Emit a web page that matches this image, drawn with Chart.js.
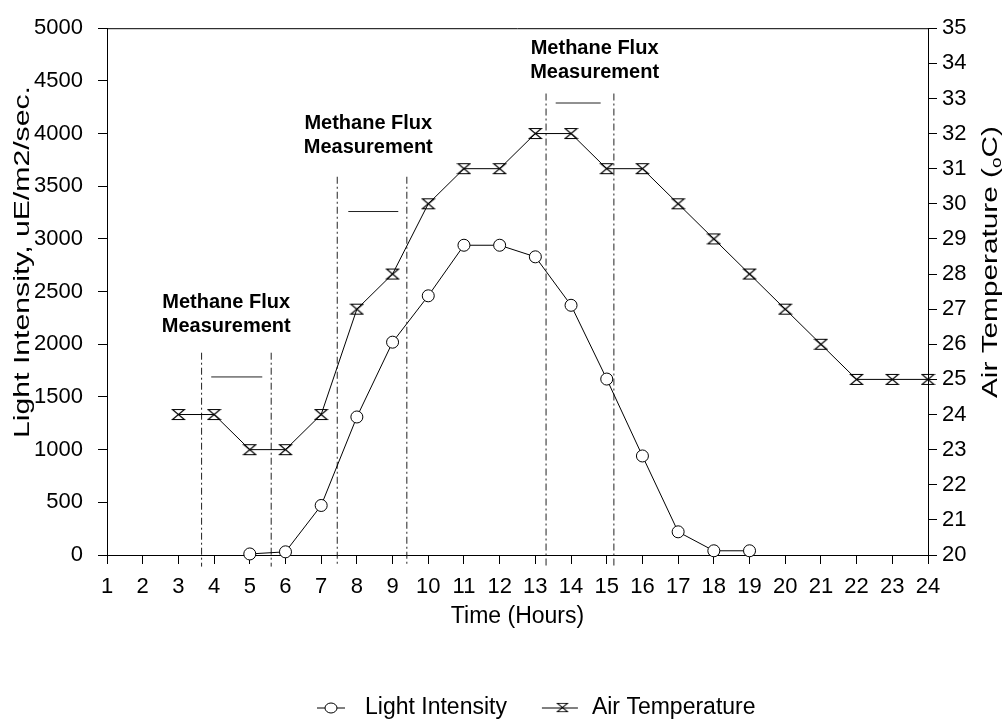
<!DOCTYPE html>
<html>
<head>
<meta charset="utf-8">
<script src="https://cdn.jsdelivr.net/npm/chart.js@4.4.0/dist/chart.umd.min.js"></script>
<style>
html, body { margin: 0; padding: 0; background: #fff; }
canvas { display: block; }
</style>
</head>
<body>
<canvas id="chart" width="1006" height="726"></canvas>
<script>
var lightHours = [5, 6, 7, 8, 9, 10, 11, 12, 13, 14, 15, 16, 17, 18, 19];
var lightValues = [10, 30, 470, 1310, 2020, 2460, 2940, 2940, 2830, 2370, 1670, 940, 220, 40, 40];

var tempHours = [3, 4, 5, 6, 7, 8, 9, 10, 11, 12, 13, 14, 15, 16, 17, 18, 19, 20, 21, 22, 23, 24];
var tempValues = [24, 24, 23, 23, 24, 27, 28, 30, 31, 31, 32, 32, 31, 31, 30, 29, 28, 27, 26, 25, 25, 25];

// methane flux measurement windows (hours), with the light-axis level of each mark
var fluxStart = [3.65, 7.45, 13.3];
var fluxEnd = [5.6, 9.4, 15.2];
var fluxTop = [1920, 3590, 4380];
var fluxBarFrom = [3.92, 7.76, 13.57];
var fluxBarTo = [5.35, 9.16, 14.83];
var fluxBarLevel = [1690, 3260, 4290];
var fluxLabelHour = [4.34, 8.32, 14.66];
var fluxLabelLevel = [2400, 4100, 4810];
var fluxLabel = ['Methane Flux', 'Measurement'];

var FONT = "'Liberation Sans', Arial, sans-serif";

function hourglass() {
	var c = document.createElement('canvas');
	c.width = 15; c.height = 13;
	var g = c.getContext('2d');
	g.strokeStyle = '#000';
	g.lineWidth = 1.2;
	g.beginPath();
	g.moveTo(1.5, 1.5);
	g.lineTo(13.5, 1.5);
	g.lineTo(1.5, 11.5);
	g.lineTo(13.5, 11.5);
	g.closePath();
	g.stroke();
	return c;
}
var hourglassImg = hourglass();

// vertical axis title, stretched along its run like the scan
function vtitle(ctx, parts, bx, cy, len) {
	var w = 0;
	parts.forEach(function(p) {
		ctx.font = p.size + 'px ' + FONT;
		p.w = ctx.measureText(p.t).width;
		w += p.w;
	});
	ctx.save();
	ctx.translate(bx, cy);
	ctx.rotate(-Math.PI / 2);
	ctx.scale(len / w, 1);
	ctx.fillStyle = '#000';
	ctx.textAlign = 'left';
	ctx.textBaseline = 'alphabetic';
	var sx = -w / 2;
	parts.forEach(function(p) {
		ctx.font = p.size + 'px ' + FONT;
		ctx.fillText(p.t, sx, p.dy || 0);
		sx += p.w;
	});
	ctx.restore();
}

var flux_plugin = {
	id: 'flux',
	beforeDatasetsDraw: function(chart) {
		var ctx = chart.ctx, x = chart.scales.x, y = chart.scales.y;
		ctx.save();
		ctx.strokeStyle = '#222';
		ctx.lineWidth = 1;
		for (var i = 0; i < fluxStart.length; i++) {
			ctx.setLineDash([7, 3, 2, 3]);
			[fluxStart[i], fluxEnd[i]].forEach(function(h) {
				ctx.beginPath();
				ctx.moveTo(x.getPixelForValue(h), y.getPixelForValue(fluxTop[i]));
				ctx.lineTo(x.getPixelForValue(h), y.getPixelForValue(-110));
				ctx.stroke();
			});
			ctx.setLineDash([]);
			ctx.beginPath();
			ctx.moveTo(x.getPixelForValue(fluxBarFrom[i]), y.getPixelForValue(fluxBarLevel[i]));
			ctx.lineTo(x.getPixelForValue(fluxBarTo[i]), y.getPixelForValue(fluxBarLevel[i]));
			ctx.stroke();
		}
		ctx.restore();
	},
	afterDraw: function(chart) {
		var ctx = chart.ctx, x = chart.scales.x, y = chart.scales.y, area = chart.chartArea;
		ctx.save();
		// top frame line
		ctx.strokeStyle = '#000';
		ctx.lineWidth = 1;
		ctx.beginPath();
		ctx.moveTo(area.left, area.top + 0.5);
		ctx.lineTo(area.right, area.top + 0.5);
		ctx.stroke();

		// annotation text
		ctx.fillStyle = '#000';
		ctx.font = 'bold 20px ' + FONT;
		ctx.textAlign = 'center';
		ctx.textBaseline = 'middle';
		for (var i = 0; i < fluxLabelHour.length; i++) {
			var px = x.getPixelForValue(fluxLabelHour[i]);
			var py = y.getPixelForValue(fluxLabelLevel[i]);
			ctx.fillText(fluxLabel[0], px, py);
			ctx.fillText(fluxLabel[1], px, py + 24);
		}
		ctx.restore();

		// axis titles
		vtitle(ctx, [{t: 'Light Intensity, uE/m2/sec.', size: 22}], 29, 262, 352);
		vtitle(ctx, [{t: 'Air Temperature (', size: 22}, {t: 'o', size: 14, dy: 4}, {t: 'C)', size: 22}], 997, 262, 272);

		// legend: short line with marker, then label
		ctx.save();
		ctx.font = '23px ' + FONT;
		ctx.textBaseline = 'middle';
		ctx.fillStyle = '#000';
		ctx.strokeStyle = '#000';
		ctx.lineWidth = 1;
		var lx = 317, ly = 708;
		chart.data.datasets.forEach(function(ds, k) {
			var len = k == 0 ? 28 : 36;
			var gap = k == 0 ? 20 : 14;
			ctx.beginPath();
			ctx.moveTo(lx, ly);
			ctx.lineTo(lx + len, ly);
			ctx.stroke();
			if (k == 0) {
				ctx.beginPath();
				ctx.fillStyle = '#fff';
				ctx.ellipse(lx + 14, ly, 6, 5, 0, 0, Math.PI * 2);
				ctx.fill();
				ctx.stroke();
				ctx.fillStyle = '#000';
			} else {
				ctx.drawImage(hourglassImg, lx + 14, ly - 6, 13, 11);
			}
			ctx.fillText(ds.label, lx + len + gap, ly);
			lx = lx + len + gap + ctx.measureText(ds.label).width + 35;
		});
		ctx.restore();
	}
};

function plain(v) { return String(v); }

var config_chart = {
	type: 'line',
	data: {
		datasets: [{
			label: 'Light Intensity',
			data: lightHours.map(function(h, i) { return {x: h, y: lightValues[i]}; }),
			yAxisID: 'y',
			borderColor: '#000',
			borderWidth: 1,
			pointStyle: 'circle',
			pointRadius: 6,
			pointBackgroundColor: '#fff',
			pointBorderColor: '#000',
			pointBorderWidth: 1,
			tension: 0,
			clip: 12
		}, {
			label: 'Air Temperature',
			data: tempHours.map(function(h, i) { return {x: h, y: tempValues[i]}; }),
			yAxisID: 'y1',
			borderColor: '#000',
			borderWidth: 1,
			pointStyle: hourglassImg,
			tension: 0,
			clip: 12
		}]
	},
	options: {
		responsive: false,
		animation: false,
		layout: { padding: { top: 24, left: 0, right: 0, bottom: 0 } },
		plugins: { legend: { display: false }, tooltip: { enabled: false } },
		scales: {
			x: {
				type: 'linear', min: 1, max: 24,
				ticks: { stepSize: 1, color: '#000', padding: 10, font: { family: FONT, size: 22 }, callback: plain },
				grid: { drawOnChartArea: false, tickLength: 9, color: '#000' },
				border: { color: '#000', width: 1 },
				title: { display: true, text: 'Time (Hours)', color: '#000', font: { family: FONT, size: 23 }, padding: { top: 0, bottom: 96 } },
				afterFit: function(s) { s.height = 171; }
			},
			y: {
				position: 'left', min: 0, max: 5000,
				ticks: { stepSize: 500, color: '#000', padding: 15, font: { family: FONT, size: 22 }, callback: plain },
				grid: { drawOnChartArea: false, tickLength: 9, color: '#000' },
				border: { color: '#000', width: 1 },
				afterFit: function(s) { s.width = 107; }
			},
			y1: {
				position: 'right', min: 20, max: 35,
				ticks: { stepSize: 1, color: '#000', padding: 5, font: { family: FONT, size: 22 }, callback: plain },
				grid: { drawOnChartArea: false, tickLength: 9, color: '#000' },
				border: { color: '#000', width: 1 },
				afterFit: function(s) { s.width = 78; }
			}
		}
	},
	plugins: [flux_plugin]
};

window.onload = function() {
	var ctx = document.getElementById('chart').getContext('2d');
	window.myChart = new Chart(ctx, config_chart);
};
</script>
</body>
</html>
